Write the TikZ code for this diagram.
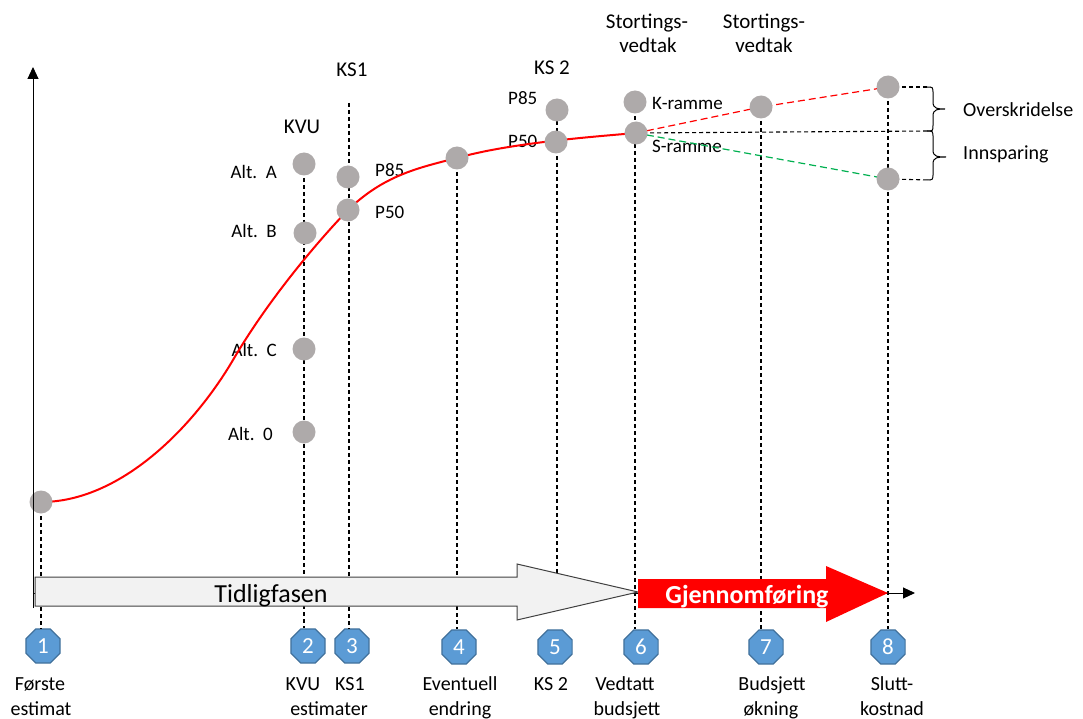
\documentclass[tikz,border=0pt]{standalone}
\usepackage{fontspec}
\setmainfont{Carlito}
\usetikzlibrary{shapes.geometric,arrows.meta}
\definecolor{dotgray}{HTML}{AEAAAA}
\definecolor{badgefill}{HTML}{5B9BD5}
\definecolor{badgeline}{HTML}{41719C}
\definecolor{tgray}{HTML}{F2F2F2}
\definecolor{mygreen}{HTML}{00B050}
\begin{document}
\begin{tikzpicture}[x=1pt,y=-1pt,
  gdot/.style={circle, fill=dotgray, minimum size=23pt, inner sep=0pt},
  vdash/.style={line width=1.1pt, dash pattern=on 4pt off 3pt},
  cdash/.style={line width=1.2pt, dash pattern=on 7pt off 4pt},
  badge/.style={regular polygon, regular polygon sides=8, fill=badgefill, draw=badgeline,
    line width=1.2pt, minimum size=37pt, inner sep=0pt, text=white,
    font=\fontsize{23}{23}\selectfont},
  lbl/.style={font=\fontsize{20}{24}\selectfont, inner sep=0pt, anchor=base},
  tlbl/.style={font=\fontsize{21}{24}\selectfont, inner sep=0pt, anchor=base},
  slbl/.style={font=\fontsize{19}{22}\selectfont, inner sep=0pt},
  blbl/.style={font=\fontsize{20}{24}\selectfont, inner sep=0pt, anchor=base west}
]
\useasboundingbox (0,0) rectangle (1083,719);

% badges
\node[badge] (b1) at (43,646) {1};
\node[badge] (b2) at (308,646) {2};
\node[badge] (b3) at (352,646) {3};
\node[badge] (b4) at (459,647) {4};
\node[badge] (b5) at (555,647) {5};
\node[badge] (b6) at (641,647) {6};
\node[badge] (b7) at (766,647) {7};
\node[badge] (b8) at (888,647) {8};

% dot positions
\coordinate (p1) at (41,502);
\coordinate (pA) at (304,164);
\coordinate (pB) at (305,233);
\coordinate (pC) at (304,349);
\coordinate (p0) at (304,432);
\coordinate (q85) at (348,177);
\coordinate (q50) at (348,210);
\coordinate (p4) at (457,158);
\coordinate (r85) at (557,110);
\coordinate (r50) at (556,142);
\coordinate (pK) at (635,102);
\coordinate (pS) at (636,133);
\coordinate (p7) at (761,107);
\coordinate (p8a) at (888,87);
\coordinate (p8b) at (888,179);
\coordinate (t3) at (349,103);
\coordinate (t5) at (557,100);
\coordinate (e5) at (557,580);

% vertical dashed lines
\draw[vdash] (p1) -- (p1 |- b1.north);
\draw[vdash] (pA) -- (pA |- b2.north);
\draw[vdash] (t3) -- (t3 |- b3.north);
\draw[vdash] (p4) -- (p4 |- b4.north);
\draw[vdash] (t5) -- (e5);
\draw[vdash] (pK) -- (pK |- b6.north);
\draw[vdash] (p7) -- (p7 |- b7.north);
\draw[vdash] (p8a) -- (p8a |- b8.north);

% labels
\node[tlbl] (lkvu) at (302,134) {KVU};
\node[tlbl] (lks1) at (352,77) {KS1};
\node[tlbl] (lks2) at (552,75) {KS 2};
\node[tlbl] (st1a) at (647,29) {Stortings-};
\node[tlbl] (st1b) at (648,53) {vedtak};
\node[tlbl] (st2a) at (764,29) {Stortings-};
\node[tlbl] (st2b) at (764,53) {vedtak};
\node[slbl, anchor=base east] (altA) at (277,179) {Alt.\hspace{0.45em}A};
\node[slbl, anchor=base east] (altB) at (277,237) {Alt.\hspace{0.45em}B};
\node[slbl, anchor=base east] (altC) at (277,356) {Alt.\hspace{0.45em}C};
\node[slbl, anchor=base east] (alt0) at (273,440) {Alt.\hspace{0.45em}0};
\node[slbl, anchor=base west] (lq85) at (375,177) {P85};
\node[slbl, anchor=base west] (lq50) at (375,219) {P50};
\node[slbl, anchor=base west] (lr85) at (508,105) {P85};
\node[slbl, anchor=base west] (lr50) at (508,148) {P50};
\node[slbl, anchor=base west] (lK) at (652,110) {K-ramme};
\node[slbl, anchor=base west] (lS) at (652,153) {S-ramme};
\node[blbl] (lover) at (963,117) {Overskridelse};
\node[blbl] (linn) at (963,160) {Innsparing};

% red S-curve
\draw[red, line width=2pt] (p1) .. controls (120,502) and (193,428) .. (233,360)
   .. controls (268,300) and (318,241) .. (q50)
   .. controls (383,176) and (417,168) .. (p4)
   .. controls (510,143) and (590,137) .. (pS);

% frame lines
\draw[red, cdash] (pS) -- (p7) -- (p8a);
\draw[mygreen, cdash] (pS) -- (p8b);
\coordinate (h1) at (930,87);
\coordinate (h2) at (930,131);
\coordinate (h3) at (930,180);
\draw[vdash] (pS) -- (h2);
\draw[vdash] (p8a) -- (h1);
\draw[vdash] (p8b) -- (h3);

% braces
\draw[line width=1pt] (927,87) .. controls (933,87) .. (933,94) -- (933,102)
   .. controls (933,109) and (938,109) .. (945,109)
   .. controls (938,109) and (933,109) .. (933,116) -- (933,125)
   .. controls (933,131) .. (927,131);
\draw[line width=1pt] (927,131) .. controls (933,131) .. (933,138) -- (933,150)
   .. controls (933,157) and (938,157) .. (946,157)
   .. controls (938,157) and (933,157) .. (933,164) -- (933,173)
   .. controls (933,180) .. (927,180);

% dots
\foreach \p/\n in {p1/d1,pA/dA,pB/dB,pC/dC,p0/d0,q85/e85,q50/e50,p4/d4,r85/f85,r50/f50,pK/dK,pS/dS,p7/d7,p8a/d8a,p8b/d8b}
  \node[gdot] (\n) at (\p) {};

% axes
\coordinate (o) at (33,608);
\coordinate (ytop) at (33,67);
\coordinate (xo) at (33,593);
\coordinate (xend) at (915,593);
\draw[line width=1pt, -{Triangle[length=12pt,width=11pt]}] (o) -- (ytop);
\draw[line width=1pt, -{Triangle[length=12pt,width=11pt]}] (xo) -- (xend);

% phase arrows
\draw[draw=black!75, fill=tgray, line width=1pt]
  (35,577) -- (517,577) -- (517,564) -- (638,592) -- (517,620) -- (517,606) -- (35,606) -- cycle;
\node[font=\fontsize{26}{26}\selectfont, anchor=base, inner sep=0pt] (tidl) at (271,602) {Tidligfasen};
\fill[red] (638,579) -- (826,579) -- (826,566) -- (888,593) -- (826,622) -- (826,608) -- (638,608) -- cycle;
\node[font=\bfseries\fontsize{26}{26}\selectfont, text=white, anchor=base, inner sep=0pt] (gjen) at (747,603) {Gjennomføring};

% bottom labels
\node[lbl] (l1a) at (40,690) {Første};
\node[lbl] (l1b) at (41,715) {estimat};
\node[lbl] (l2a) at (303,690) {KVU};
\node[lbl] (l3a) at (350,690) {KS1};
\node[lbl] (l23b) at (329,715) {estimater};
\node[lbl] (l4a) at (460,690) {Eventuell};
\node[lbl] (l4b) at (460,715) {endring};
\node[lbl] (l5a) at (551,690) {KS 2};
\node[lbl] (l6a) at (625,690) {Vedtatt};
\node[lbl] (l6b) at (627,715) {budsjett};
\node[lbl] (l7a) at (772,690) {Budsjett};
\node[lbl] (l7b) at (771,715) {økning};
\node[lbl] (l8a) at (892,690) {Slutt-};
\node[lbl] (l8b) at (892,715) {kostnad};
\end{tikzpicture}
\end{document}
